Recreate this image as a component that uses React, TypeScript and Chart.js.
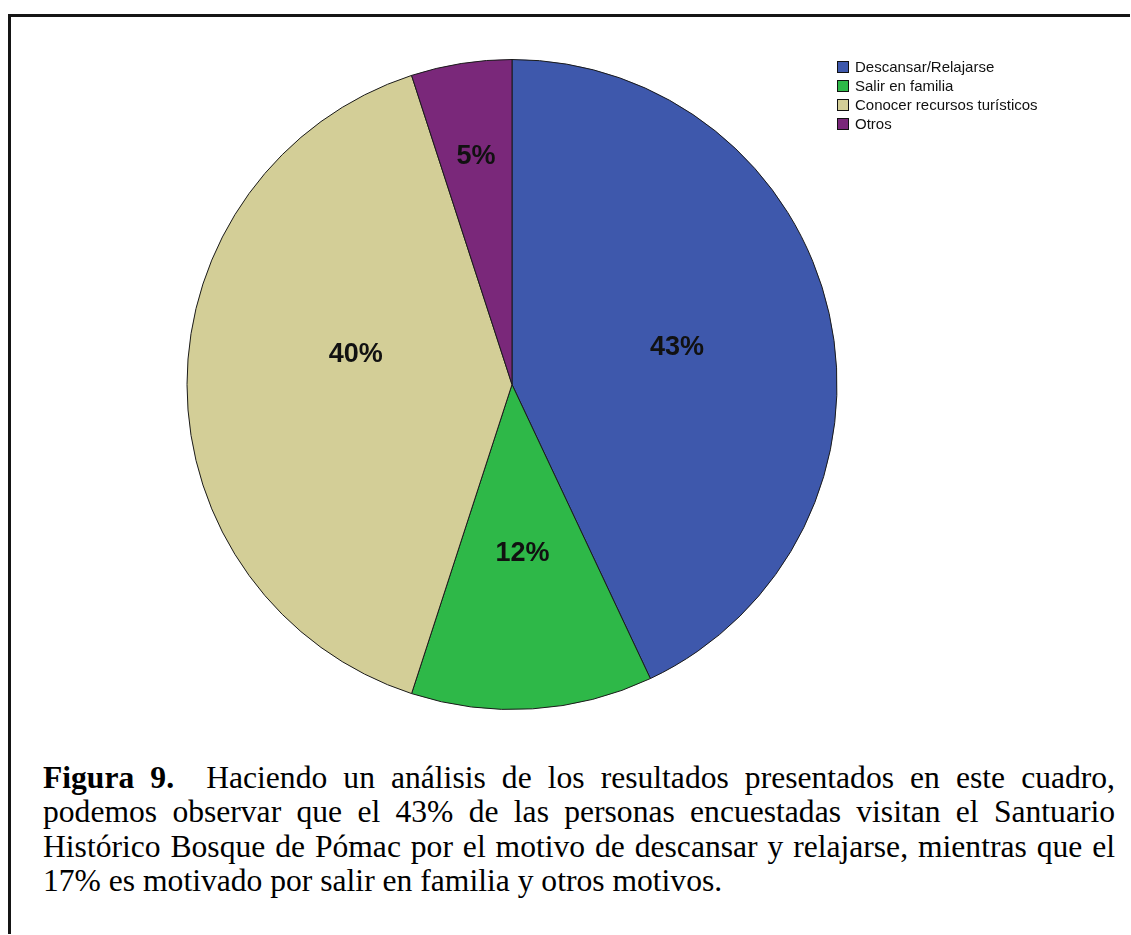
import React, { useEffect, useRef } from "react";
import { Chart, registerables } from "chart.js";

Chart.register(...registerables);

const categories = ["Descansar/Relajarse", "Salir en familia", "Conocer recursos turísticos", "Otros"];
const percentages = [43, 12, 40, 5];
const sliceColors = ["#3E58AC", "#2EB848", "#D3CE97", "#7A287A"];

const captionLines = [
  "Haciendo un análisis de los resultados presentados en este cuadro,",
  "podemos observar que el 43% de las personas encuestadas visitan el Santuario",
  "Histórico Bosque de Pómac por el motivo de descansar y relajarse, mientras que el",
  "17% es motivado por salir en familia y otros motivos.",
];

// label placement tweaks (degrees of angular shift, fraction of radius)
const LABEL_TWEAKS: Record<number, { shift: number; frac: number }> = {
  2: { shift: 11, frac: 0.49 },
};

const labelPlugin = {
  id: "pctLabels",
  afterDatasetsDraw(chart: any) {
    const ctx = chart.ctx;
    const meta = chart.getDatasetMeta(0);
    const ds = chart.data.datasets[0];
    ctx.save();
    ctx.font = "bold 27px 'Liberation Sans', Arial, sans-serif";
    ctx.fillStyle = "#111";
    ctx.textAlign = "center";
    ctx.textBaseline = "middle";
    meta.data.forEach((arc: any, i: number) => {
      const v = ds.data[i] as number;
      const { x, y, startAngle, endAngle, outerRadius } = arc.getProps(
        ["x", "y", "startAngle", "endAngle", "outerRadius"],
        true
      );
      const tw = LABEL_TWEAKS[i];
      const mid = (startAngle + endAngle) / 2 + (tw ? (tw.shift * Math.PI) / 180 : 0);
      const frac = tw ? tw.frac : v < 10 ? 0.71 : 0.52;
      const lx = x + Math.cos(mid) * outerRadius * frac;
      const ly = y + Math.sin(mid) * outerRadius * frac;
      ctx.fillText(v + "%", lx, ly);
    });
    ctx.restore();
  },
};

const legendPlugin = {
  id: "customLegend",
  afterDraw(chart: any) {
    const ctx = chart.ctx;
    const labels = chart.data.labels as string[];
    const colors = chart.data.datasets[0].backgroundColor as string[];
    const x0 = 826;
    const y0 = 50;
    const step = 19;
    ctx.save();
    ctx.font = "15px 'Liberation Sans', Arial, sans-serif";
    ctx.textBaseline = "middle";
    ctx.textAlign = "left";
    labels.forEach((lab, i) => {
      const cy = y0 + i * step;
      ctx.fillStyle = colors[i];
      ctx.fillRect(x0, cy - 6, 12, 12);
      ctx.strokeStyle = "#111";
      ctx.lineWidth = 1;
      ctx.strokeRect(x0 + 0.5, cy - 5.5, 11, 11);
      ctx.fillStyle = "#111";
      ctx.fillText(lab, x0 + 18, cy + 1);
    });
    ctx.restore();
  },
};

export default function App() {
  const ref = useRef<HTMLCanvasElement | null>(null);

  useEffect(() => {
    if (!ref.current) return;
    const chart = new Chart(ref.current, {
      type: "pie",
      data: {
        labels: categories,
        datasets: [
          {
            data: percentages,
            backgroundColor: sliceColors,
            borderColor: "#1a1a1a",
            borderWidth: 1,
          },
        ],
      },
      options: {
        responsive: false,
        animation: false,
        layout: { padding: { top: 39.5, bottom: 19.5, left: 175.5, right: 285.5 } },
        plugins: {
          legend: { display: false },
          tooltip: { enabled: false },
        },
      },
      plugins: [labelPlugin, legendPlugin],
    });
    return () => chart.destroy();
  }, []);

  const lineStyle: React.CSSProperties = {
    textAlign: "justify",
    textAlignLast: "justify" as any,
    height: 34.3,
    lineHeight: "34.3px",
  };

  return (
    <div
      style={{
        position: "absolute",
        left: 8,
        top: 14,
        width: 1122,
        height: 920,
        boxSizing: "border-box",
        borderTop: "3px solid #151515",
        borderLeft: "3px solid #151515",
        background: "#fff",
        overflow: "hidden",
      }}
    >
      <canvas
        ref={ref}
        width={1112}
        height={715}
        style={{ position: "absolute", left: 0, top: 0, width: 1112, height: 715 }}
      />
      <div
        style={{
          position: "absolute",
          left: 32,
          top: 744,
          width: 1072,
          fontFamily: "'Liberation Serif', 'Times New Roman', serif",
          fontSize: 31.6,
          color: "#000",
        }}
      >
        <div style={lineStyle}>
          <b>Figura 9.</b>&nbsp; {captionLines[0]}
        </div>
        <div style={lineStyle}>{captionLines[1]}</div>
        <div style={lineStyle}>{captionLines[2]}</div>
        <div style={{ ...lineStyle, textAlignLast: "left" as any }}>{captionLines[3]}</div>
      </div>
    </div>
  );
}
